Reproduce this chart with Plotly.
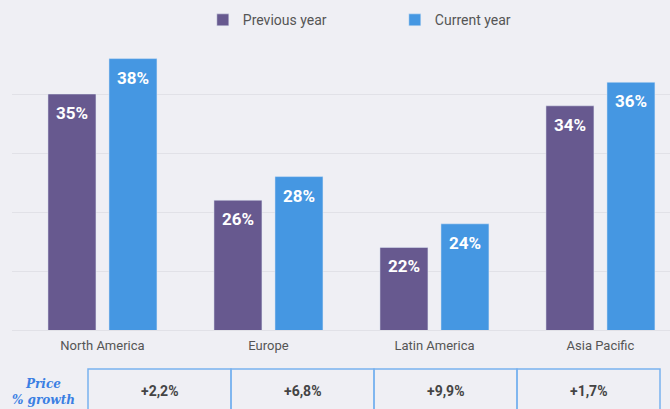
"""Regional price share chart with growth table underneath."""

import plotly.graph_objects as go

REGIONS = ["North America", "Europe", "Latin America", "Asia Pacific"]
PREVIOUS_YEAR = [35, 26, 22, 34]
CURRENT_YEAR = [38, 28, 24, 36]
PRICE_GROWTH = ["+2,2%", "+6,8%", "+9,9%", "+1,7%"]

# Theme colours
bg_color = '#efeff4'
prev_color = '#67598f'
curr_color = '#4597e2'
grid_color = '#e1e1e7'
text_color = '#555555'
cell_line = '#7ab2ee'
label_blue = '#3b7fe3'

fig = go.Figure()

fig.add_trace(go.Bar(
    x=REGIONS,
    y=PREVIOUS_YEAR,
    name="Previous year",
    marker_color=prev_color,
    hoverinfo='skip'
))
fig.add_trace(go.Bar(
    x=REGIONS,
    y=CURRENT_YEAR,
    name="Current year",
    marker_color=curr_color,
    hoverinfo='skip'
))

annotations = []

# Value labels sitting just inside the top of each bar
for region, prev, curr in zip(REGIONS, PREVIOUS_YEAR, CURRENT_YEAR):
    for val, shift in ((prev, -30.5), (curr, 30.5)):
        annotations.append(dict(
            x=region, y=val, xref='x', yref='y',
            text=f"<b>{val}%</b>", showarrow=False,
            xshift=shift, yshift=-19, xanchor='center', yanchor='middle',
            font=dict(family='Roboto', size=17, color='white')
        ))

# Growth table below the plot (paper coords, plot area is 658x295 px)
plot_left, plot_w, plot_bottom, plot_h = 12, 658, 330, 295
cell_edges = [88, 231, 374, 517, 660]
cell_top = (plot_bottom - 369) / plot_h
cell_bottom = (plot_bottom - 420) / plot_h
text_y = (plot_bottom - 391) / plot_h

shapes = []
for i, growth in enumerate(PRICE_GROWTH):
    x0 = (cell_edges[i] - plot_left) / plot_w
    x1 = (cell_edges[i + 1] - plot_left) / plot_w
    shapes.append(dict(
        type='rect', xref='paper', yref='paper',
        x0=x0, x1=x1, y0=cell_bottom, y1=cell_top,
        line=dict(color=cell_line, width=1.5), layer='above'
    ))
    annotations.append(dict(
        x=(x0 + x1) / 2, y=text_y, xref='paper', yref='paper',
        text=f"<b>{growth}</b>", showarrow=False,
        xanchor='center', yanchor='middle',
        font=dict(family='Roboto', size=14, color='#444444')
    ))

annotations.append(dict(
    x=(43 - plot_left) / plot_w, y=(plot_bottom - 392) / plot_h,
    xref='paper', yref='paper', showarrow=False,
    xanchor='center', yanchor='middle',
    text="<b><i>Price<br>% growth</i></b>", align='center',
    font=dict(family='DejaVu Serif', size=12, color=label_blue)
))

fig.update_layout(
    width=670,
    height=409,
    margin=dict(l=12, r=0, t=35, b=79),
    paper_bgcolor=bg_color,
    plot_bgcolor=bg_color,
    font=dict(family='Roboto', size=13, color=text_color),
    barmode='group',
    bargap=0.265,
    bargroupgap=0.213,
    showlegend=True,
    legend=dict(
        orientation='h', x=0.29, xanchor='left', y=1.05, yanchor='middle',
        entrywidth=147, entrywidthmode='pixels',
        font=dict(family='Roboto', size=14, color=text_color),
        bgcolor='rgba(0,0,0,0)'
    ),
    xaxis=dict(
        range=[-0.545, 3.419],
        showgrid=False,
        showline=True, linecolor=grid_color, linewidth=1,
        ticks='', tickfont=dict(size=13, color=text_color),
        ticklabelstandoff=3,
        fixedrange=True
    ),
    yaxis=dict(
        range=[15, 40], dtick=5, showticklabels=False,
        gridcolor=grid_color, gridwidth=1, zeroline=False,
        fixedrange=True
    ),
    shapes=shapes,
    annotations=annotations
)

# Drop the default body margin so the figure fills the window exactly
fig.write_html(
    "out.html",
    config={'displayModeBar': False},
    post_script="document.body.style.margin='0';"
)
